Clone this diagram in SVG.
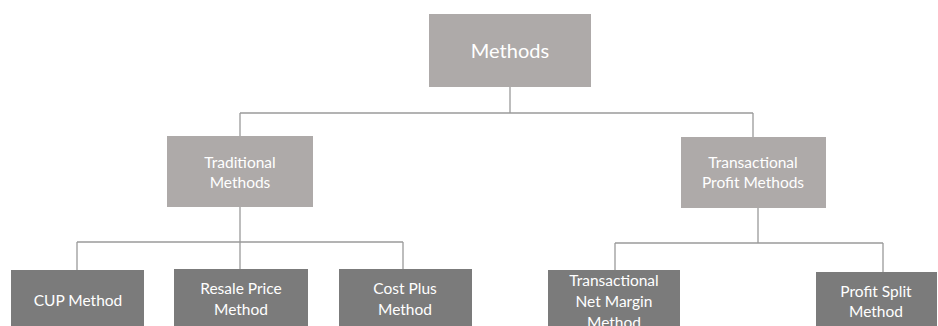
<svg xmlns="http://www.w3.org/2000/svg" width="938" height="326" viewBox="0 0 938 326">
<style>
.top{fill:#aeaaa9}
.bot{fill:#7b7b7b}
.t{font-family:Lato,"Open Sans","Liberation Sans",sans-serif;fill:#ffffff;text-anchor:middle}
.s16{font-size:15.5px}
.s21{font-size:20px}
.ln{stroke:#9a9a9a;stroke-width:1.3;fill:none}
</style>
<rect width="938" height="326" fill="#ffffff"/>
<g id="connectors">
<path class="ln" d="M510 87V113M240 113H753M240 113V136M753 113V137"/>
<path class="ln" d="M240 207V242M77 242H403M77 242V270M240 242V269M403 242V269"/>
<path class="ln" d="M758 208V243M615 243H883M615 243V270M883 243V272"/>
</g>
<g id="n-methods">
<rect class="top" x="429" y="14" width="162" height="73"/>
<text class="t s21" x="510" y="58">Methods</text>
</g>
<g id="n-traditional">
<rect class="top" x="167" y="136" width="146" height="71"/>
<text class="t s16" x="240" y="168">Traditional</text>
<text class="t s16" x="240" y="188">Methods</text>
</g>
<g id="n-transactional">
<rect class="top" x="681" y="137" width="145" height="71"/>
<text class="t s16" x="753" y="168">Transactional</text>
<text class="t s16" x="753" y="188">Profit Methods</text>
</g>
<g id="n-cup">
<rect class="bot" x="11" y="270" width="133" height="56"/>
<text class="t s16" x="78" y="306">CUP Method</text>
</g>
<g id="n-resale">
<rect class="bot" x="174" y="269" width="134" height="57"/>
<text class="t s16" x="241" y="294">Resale Price</text>
<text class="t s16" x="241" y="315">Method</text>
</g>
<g id="n-costplus">
<rect class="bot" x="339" y="269" width="133" height="57"/>
<text class="t s16" x="405" y="294">Cost Plus</text>
<text class="t s16" x="405" y="315">Method</text>
</g>
<g id="n-tnmm">
<rect class="bot" x="548" y="270" width="132" height="56"/>
<text class="t s16" x="614" y="286">Transactional</text>
<text class="t s16" x="614" y="307">Net Margin</text>
<text class="t s16" x="614" y="328">Method</text>
</g>
<g id="n-profitsplit">
<rect class="bot" x="816" y="272" width="121" height="54"/>
<text class="t s16" x="876" y="297">Profit Split</text>
<text class="t s16" x="876" y="317">Method</text>
</g>
</svg>
